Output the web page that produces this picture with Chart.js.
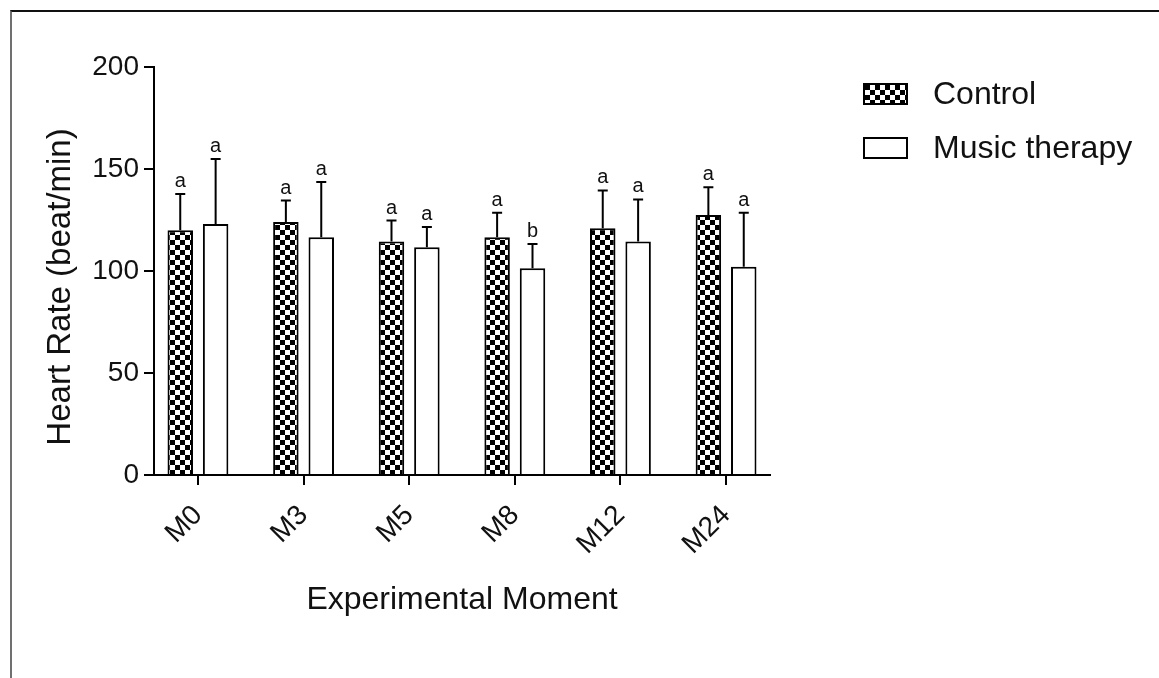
<!DOCTYPE html>
<html>
<head>
<meta charset="utf-8">
<script src="https://cdn.jsdelivr.net/npm/chart.js@4"></script>
<style>
  body { margin: 0; background: #fff; }
  #wrap { position: relative; width: 1159px; height: 678px; }
  #frame { position: absolute; left: 10px; top: 10px; right: 0; bottom: 0;
           border-top: 2px solid #111; border-left: 2px solid #707070; pointer-events: none; }
</style>
</head>
<body>
<div id="wrap">
  <canvas id="chart" width="1159" height="678"></canvas>
  <div id="frame"></div>
</div>
<script>
const categories = ["M0", "M3", "M5", "M8", "M12", "M24"];
const controlMean = [120, 124, 114.5, 116.5, 121, 127.5];
const controlSd = [17.7, 10.5, 10.2, 12.1, 18.5, 13.6];
const controlLetters = ["a", "a", "a", "a", "a", "a"];
const musicMean = [123, 116.5, 111.6, 101.3, 114.5, 102.1];
const musicSd = [31.9, 27.1, 10, 11.9, 20.6, 26.5];
const musicLetters = ["a", "a", "a", "b", "a", "a"];
const yTicks = [0, 50, 100, 150, 200];

const FONT = "'Liberation Sans', Arial, sans-serif";
const canvas = document.getElementById("chart");
const ctx = canvas.getContext("2d");

// checkerboard fill for the control bars
const tile = document.createElement("canvas");
tile.width = 10;
tile.height = 10;
const tctx = tile.getContext("2d");
tctx.fillStyle = "#fff";
tctx.fillRect(0, 0, 10, 10);
tctx.fillStyle = "#000";
tctx.fillRect(0, 0, 5, 5);
tctx.fillRect(5, 5, 5, 5);
const checker = ctx.createPattern(tile, "repeat");

const errors = [controlSd, musicSd];
const letters = [controlLetters, musicLetters];

const errorBars = {
  id: "errorBars",
  afterDatasetsDraw(chart) {
    const c = chart.ctx;
    const y = chart.scales.y;
    c.save();
    c.strokeStyle = "#000";
    c.fillStyle = "#111";
    c.lineWidth = 2;
    c.font = "20px " + FONT;
    c.textAlign = "center";
    c.textBaseline = "alphabetic";
    chart.data.datasets.forEach((ds, di) => {
      chart.getDatasetMeta(di).data.forEach((bar, i) => {
        const top = y.getPixelForValue(ds.data[i].y + errors[di][i]);
        c.beginPath();
        c.moveTo(bar.x, bar.y);
        c.lineTo(bar.x, top);
        c.moveTo(bar.x - 5, top);
        c.lineTo(bar.x + 5, top);
        c.stroke();
        c.fillText(letters[di][i], bar.x, top - 7);
      });
    });
    c.restore();
  }
};

const extras = {
  id: "extras",
  afterDraw(chart) {
    const c = chart.ctx;
    c.save();
    // y axis title
    c.fillStyle = "#111";
    c.font = "33px " + FONT;
    c.textAlign = "center";
    c.textBaseline = "middle";
    c.translate(61, 287);
    c.rotate(-Math.PI / 2);
    c.fillText("Heart Rate (beat/min)", 0, 0);
    c.restore();

    // legend
    c.save();
    c.font = "32px " + FONT;
    c.textBaseline = "middle";
    c.textAlign = "left";
    chart.data.datasets.forEach((ds, i) => {
      const cy = 94 + i * 54;
      c.fillStyle = ds.backgroundColor;
      c.fillRect(863, cy - 11, 45, 22);
      c.strokeStyle = "#000";
      c.lineWidth = 2;
      c.strokeRect(864, cy - 10, 43, 20);
      c.fillStyle = "#111";
      c.fillText(ds.label, 933, cy + 1);
    });
    c.restore();
  }
};

new Chart(ctx, {
  type: "bar",
  data: {
    datasets: [
      {
        label: "Control",
        data: controlMean.map((v, i) => ({ x: i, y: v })),
        backgroundColor: checker,
        borderColor: "#000",
        borderWidth: 2
      },
      {
        label: "Music therapy",
        data: musicMean.map((v, i) => ({ x: i, y: v })),
        backgroundColor: "#fff",
        borderColor: "#000",
        borderWidth: 2
      }
    ]
  },
  options: {
    responsive: false,
    animation: false,
    categoryPercentage: 0.67,
    barPercentage: 0.72,
    layout: { padding: { left: 0, right: 389, top: 67, bottom: 0 } },
    plugins: {
      legend: { display: false },
      tooltip: { enabled: false }
    },
    scales: {
      x: {
        type: "linear",
        offset: false,
        min: -0.416,
        max: 5.416,
        afterBuildTicks: (scale) => {
          scale.ticks = categories.map((_, i) => ({ value: i }));
        },
        afterFit: (scale) => { scale.height = 203; },
        ticks: {
          autoSkip: false,
          minRotation: 45,
          maxRotation: 45,
          padding: 14,
          color: "#111",
          font: { family: FONT, size: 28 },
          callback: (v) => categories[v]
        },
        grid: { offset: false, drawOnChartArea: false, tickLength: 10, color: "#000", lineWidth: 2 },
        border: { display: true, color: "#000", width: 2 },
        title: {
          display: true,
          text: "Experimental Moment",
          color: "#111",
          font: { family: FONT, size: 32 },
          padding: { top: 0, bottom: 59 }
        }
      },
      y: {
        min: 0,
        max: 200,
        afterBuildTicks: (scale) => {
          scale.ticks = yTicks.map(v => ({ value: v }));
        },
        afterFit: (scale) => { scale.width = 154; },
        ticks: {
          padding: 5,
          color: "#111",
          font: { family: FONT, size: 28 }
        },
        grid: { drawOnChartArea: false, tickLength: 10, color: "#000", lineWidth: 2 },
        border: { display: true, color: "#000", width: 2 }
      }
    }
  },
  plugins: [errorBars, extras]
});
</script>
</body>
</html>
